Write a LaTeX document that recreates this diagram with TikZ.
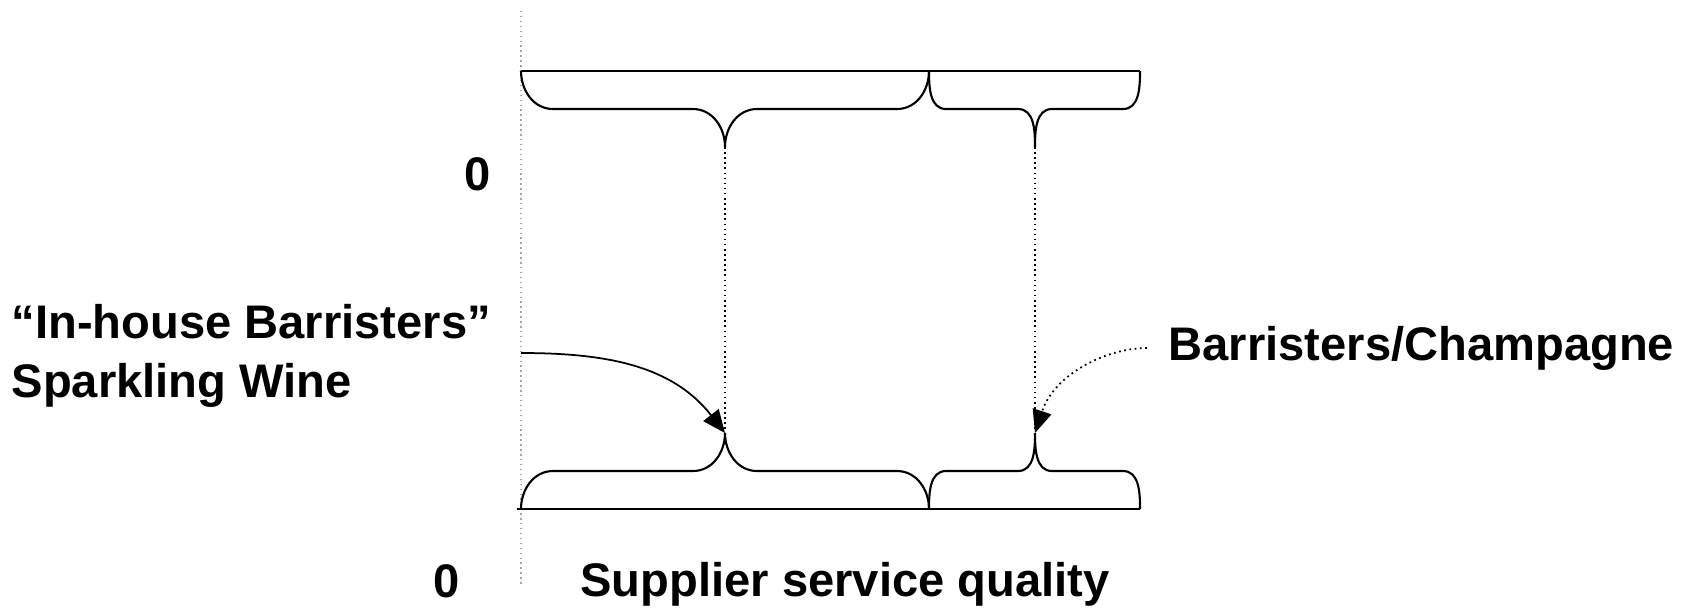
\documentclass[tikz,border=0pt]{standalone}
\usepackage{fontspec}
\setmainfont{Liberation Sans}
\usetikzlibrary{arrows.meta}

\tikzset{
  lbl/.style={inner sep=0pt, font=\fontsize{13.4pt}{17pt}\selectfont\bfseries},
  brace/.style={black, line width=0.6pt},
  guide/.style={black, densely dotted, line width=0.45pt},
  pointer/.style={-{Triangle[length=6.5pt,width=5.5pt]}, line width=0.5pt}
}

\begin{document}
\begin{tikzpicture}[x=0.01cm, y=0.01cm]
\useasboundingbox (0,0) rectangle (1704,-611);
% axis
\draw [gray!70, densely dotted, line width=0.4pt] (521,-11) -- (521,-587);
% brace tips
\coordinate (tipT1) at (725,-147);
\coordinate (tipT2) at (1035,-147);
\coordinate (tipB1) at (725,-433);
\coordinate (tipB2) at (1035,-433);
% top braces
\draw [brace] (521,-71) -- (1140,-71);
\draw [brace] (521,-71) to[out=-90,in=180] (553,-109) -- (693,-109) to[out=0,in=90] (tipT1)
  to[out=90,in=180] (757,-109) -- (897,-109) to[out=0,in=-90] (929,-71);
\draw [brace] (929,-71) to[out=-90,in=180] (946,-109) -- (1018,-109) to[out=0,in=90] (tipT2)
  to[out=90,in=180] (1052,-109) -- (1123,-109) to[out=0,in=-90] (1140,-71);
% bottom braces
\draw [brace] (517,-509) -- (1140,-509);
\draw [brace] (521,-509) to[out=90,in=180] (553,-471) -- (693,-471) to[out=0,in=-90] (tipB1)
  to[out=-90,in=180] (757,-471) -- (897,-471) to[out=0,in=90] (929,-509);
\draw [brace] (929,-509) to[out=90,in=180] (946,-471) -- (1018,-471) to[out=0,in=-90] (tipB2)
  to[out=-90,in=180] (1052,-471) -- (1123,-471) to[out=0,in=90] (1140,-509);
% dotted drops
\draw [guide] (tipT1) -- (tipB1);
\draw [guide] (tipT2) -- (tipB2);
% labels
\node [lbl] (zeroY) at (478,-174) {0};
\node [lbl] (zeroX) at (447,-581) {0};
\node [lbl, anchor=west, align=left] (inhouse) at (11,-356) {“In-house Barristers”\\Sparkling Wine};
\node [lbl, anchor=west] (champagne) at (1168,-348) {Barristers/Champagne};
\node [lbl] (quality) at (845,-584) {Supplier service quality};
% pointers
\coordinate (inhouseStart) at (521,-353);
\draw [pointer] (inhouseStart) to[out=0,in=128] (tipB1);
\draw [pointer, densely dotted, shorten <=6pt] (champagne.west) to[out=180,in=72] (tipB2);
\end{tikzpicture}
\end{document}
